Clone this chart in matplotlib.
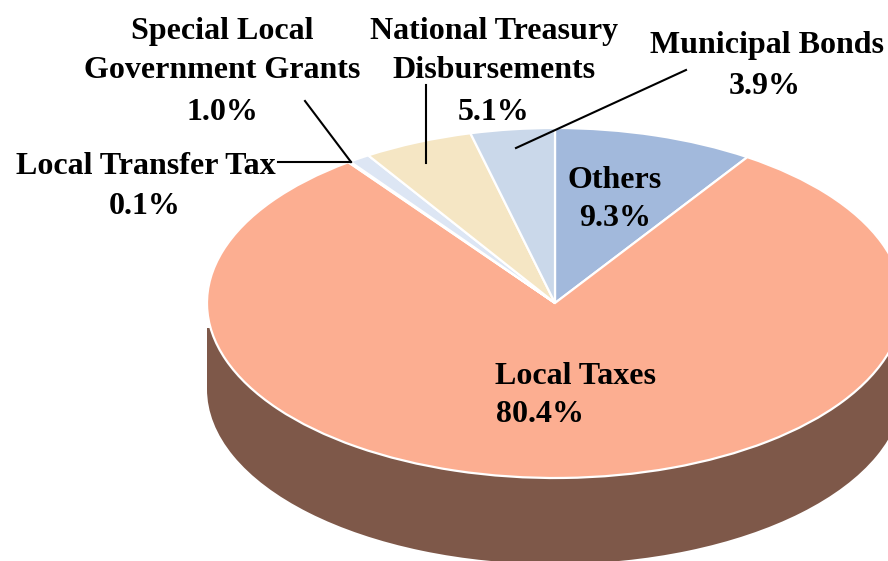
import matplotlib
matplotlib.use('Agg')
import matplotlib.pyplot as plt
from matplotlib.patches import Rectangle

plt.rcParams['font.family'] = ['Liberation Serif', 'DejaVu Serif']

# clockwise from 12 o'clock
categories = ['Others', 'Local Taxes', 'Local Transfer Tax', 'Special Local Government Grants',
              'National Treasury Disbursements', 'Municipal Bonds']
shares = [9.3, 80.4, 0.1, 1.0, 5.1, 3.9]
colors = ['#a2b9dc', '#fcae91', '#dfe7f4', '#dde6f4', '#f5e6c4', '#cad8ea']
side_color = '#7e5849'

W, H = 888, 561
CX, CY, RX, RY = 555, 303, 348, 175
DEPTH = 86


def px(x, y):
    # picture pixels to data units of the squashed pie
    return (x - CX) / RX, (CY - y) / RY


fig = plt.figure(figsize=(W / 100, H / 100), dpi=100)
ax = fig.add_axes([0, 0, 1, 1])

# side of the 3d pie
ax.pie([1], colors=[side_color], startangle=90, center=(0, -DEPTH / RY), radius=1)
ax.add_patch(Rectangle((-1, -DEPTH / RY), 2, (DEPTH - 25) / RY, color=side_color, lw=0))

# top of the pie
ax.pie(shares, colors=colors, startangle=90, counterclock=False,
       wedgeprops={'edgecolor': 'white', 'linewidth': 1.6})

ax.set_aspect('auto')
ax.set_xlim(-CX / RX, (W - CX) / RX)
ax.set_ylim((CY - H) / RY, CY / RY)
ax.axis('off')

# leader lines
leaders = [((305, 101), (351, 162)), ((278, 162), (351, 162)),
           ((426, 85), (426, 163)), ((686, 70), (516, 148))]
for a, b in leaders:
    xa, ya = px(*a)
    xb, yb = px(*b)
    ax.plot([xa, xb], [ya, yb], color='black', lw=1.5, zorder=5)

labels = [
    ('Special Local', 222, 31), ('Government Grants', 222, 71), ('1.0%', 222, 112),
    ('National Treasury', 494, 31), ('Disbursements', 494, 71), ('5.1%', 494, 112),
    ('Municipal Bonds', 767, 46), ('3.9%', 765, 87),
    ('Local Transfer Tax', 146, 166), ('0.1%', 145, 207),
    ('Others', 615, 181), ('9.3%', 615, 218),
    ('Local Taxes', 575, 377), ('80.4%', 540, 414),
]
for text, x, y in labels:
    xd, yd = px(x, y)
    ax.text(xd, yd, text, ha='center', va='center', fontsize=23, fontweight='bold', color='black', zorder=6)

fig.savefig('out.png', dpi=100)
